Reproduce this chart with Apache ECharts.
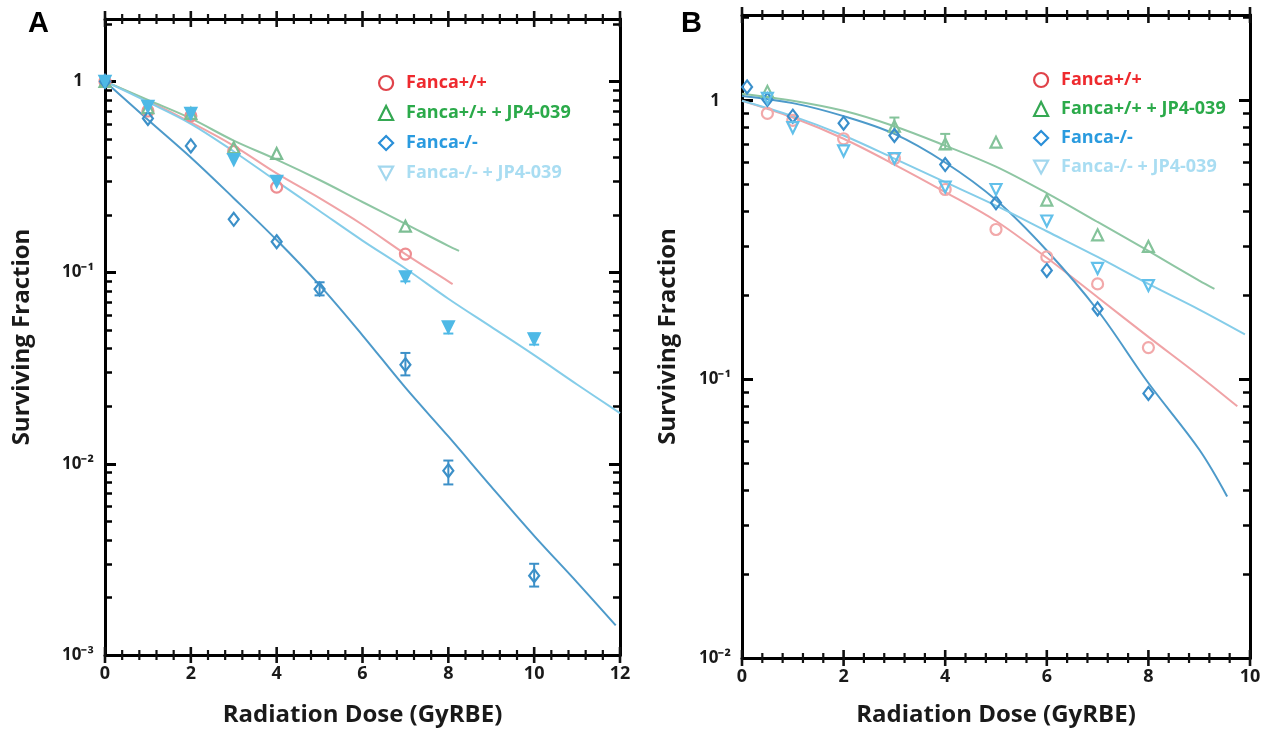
<!DOCTYPE html>
<html><head><meta charset="utf-8">
<script src="https://cdn.jsdelivr.net/npm/echarts@6/dist/echarts.min.js"></script>
<style>html,body{margin:0;padding:0;background:#fff}#c{width:1279px;height:732px}</style>
</head><body><div id="c"></div>
<script>
// ---------- Panel A : observed points ----------
const A_wt_x   = [0, 1, 2, 3, 4, 7];
const A_wt_y   = [1.0, 0.70, 0.66, 0.43, 0.28, 0.125];
const A_wtJP_x = [0, 1, 2, 3, 4, 7];
const A_wtJP_y = [1.0, 0.73, 0.68, 0.45, 0.42, 0.175];
const A_ko_x   = [0, 1, 2, 3, 4, 5, 7, 8, 10];
const A_ko_y   = [1.0, 0.64, 0.46, 0.19, 0.145, 0.082, 0.033, 0.0092, 0.0026];
const A_koJP_x = [0, 1, 2, 3, 4, 7, 8, 10];
const A_koJP_y = [1.0, 0.74, 0.68, 0.39, 0.30, 0.095, 0.052, 0.045];
// error bars (x, low, high)
const A_ko_err_x  = [5, 7, 8, 10];
const A_ko_err_lo = [0.076, 0.029, 0.0078, 0.00228];
const A_ko_err_hi = [0.089, 0.038, 0.0104, 0.0030];
const A_koJP_err_x  = [7, 8, 10];
const A_koJP_err_lo = [0.090, 0.048, 0.042];
const A_koJP_err_hi = [0.100, 0.055, 0.048];

// ---------- Panel A : fitted curves ----------
const fitA_wt_x   = [0, 1, 2, 3, 4, 5, 6, 7, 8, 8.1];
const fitA_wt_y   = [1.0, 0.79, 0.61, 0.46, 0.33, 0.245, 0.178, 0.125, 0.090, 0.087];
const fitA_wtJP_x = [0, 1, 2, 3, 4, 5, 6, 7, 8, 8.25];
const fitA_wtJP_y = [1.0, 0.80, 0.64, 0.49, 0.39, 0.305, 0.234, 0.18, 0.138, 0.13];
const fitA_ko_x   = [0, 1, 2, 3, 4, 5, 6, 7, 8, 9, 10, 11, 11.9];
const fitA_ko_y   = [1.0, 0.63, 0.40, 0.245, 0.148, 0.086, 0.047, 0.025, 0.0139, 0.0076, 0.0042, 0.0024, 0.00143];
const fitA_koJP_x = [0, 1, 2, 3, 4, 5, 6, 7, 8, 9, 10, 11, 12];
const fitA_koJP_y = [1.0, 0.78, 0.60, 0.43, 0.30, 0.21, 0.147, 0.105, 0.073, 0.052, 0.037, 0.026, 0.0184];

// ---------- Panel B : observed points ----------
const B_wt_x   = [0.5, 1, 2, 3, 4, 5, 6, 7, 8];
const B_wt_y   = [0.90, 0.85, 0.73, 0.62, 0.48, 0.345, 0.275, 0.22, 0.13];
const B_wtJP_x = [0.5, 3, 4, 5, 6, 7, 8];
const B_wtJP_y = [1.08, 0.81, 0.70, 0.71, 0.44, 0.33, 0.30];
const B_ko_x   = [0.1, 0.5, 1, 2, 3, 4, 5, 6, 7, 8];
const B_ko_y   = [1.12, 1.01, 0.88, 0.83, 0.75, 0.59, 0.43, 0.246, 0.179, 0.089];
const B_koJP_x = [0.5, 1, 2, 3, 4, 5, 6, 7, 8];
const B_koJP_y = [1.02, 0.80, 0.66, 0.62, 0.49, 0.48, 0.37, 0.25, 0.217];
const B_wtJP_err_x  = [3, 4];
const B_wtJP_err_lo = [0.77, 0.67];
const B_wtJP_err_hi = [0.87, 0.76];

// ---------- Panel B : fitted curves ----------
const fitB_wt_x   = [0, 1, 2, 3, 4, 5, 6, 7, 8, 9, 9.75];
const fitB_wt_y   = [1.0, 0.87, 0.73, 0.59, 0.47, 0.37, 0.273, 0.197, 0.142, 0.103, 0.08];
const fitB_wtJP_x = [0, 1, 2, 3, 4, 5, 6, 7, 8, 9, 9.3];
const fitB_wtJP_y = [1.06, 1.0, 0.92, 0.81, 0.69, 0.58, 0.466, 0.367, 0.289, 0.226, 0.211];
const fitB_ko_x   = [0, 1, 2, 3, 4, 5, 6, 7, 8, 9, 9.55];
const fitB_ko_y   = [1.04, 0.98, 0.88, 0.76, 0.60, 0.44, 0.29, 0.177, 0.097, 0.056, 0.038];
const fitB_koJP_x = [0, 1, 2, 3, 4, 5, 6, 7, 8, 9, 9.9];
const fitB_koJP_y = [1.0, 0.88, 0.75, 0.62, 0.51, 0.42, 0.34, 0.275, 0.22, 0.178, 0.145];

// ---------- axis ticks & labels ----------
const xTickValsA = [0, 2, 4, 6, 8, 10, 12];
const xTickValsB = [0, 2, 4, 6, 8, 10];
const xMinorStep = 0.4;
const yRangeA = [0.001, 2.12];
const yRangeB = [0.01, 2.03];
const yTickValsA   = [0.001, 0.01, 0.1, 1];
const yTickLabelsA = ['10\u207B\u00B3', '10\u207B\u00B2', '10\u207B\u00B9', '1'];
const yTickValsB   = [0.01, 0.1, 1];
const yTickLabelsB = ['10\u207B\u00B2', '10\u207B\u00B9', '1'];
const minorMantissas = [2, 3, 4, 5, 6, 7, 8, 9];
const names = ['Fanca+/+', 'Fanca+/+ + JP4-039', 'Fanca-/-', 'Fanca-/- + JP4-039'];

function minorVals(decades) {
  const out = [];
  decades.forEach(d => minorMantissas.forEach(m => out.push(+(m * d).toPrecision(3))));
  return out;
}
function xMinorVals(majors) {
  const out = [];
  for (let i = 0; i < majors.length - 1; i++) {
    for (let k = 1; k < 5; k++) out.push(+(majors[i] + k * xMinorStep).toFixed(2));
  }
  return out;
}
const yMinorA = minorVals([0.001, 0.01, 0.1, 1]);
const yMinorB = minorVals([0.01, 0.1, 1]);
const xMinorA = xMinorVals(xTickValsA);
const xMinorB = xMinorVals(xTickValsB);

const FONT = 'Open Sans';
const BLACK = '#000';
const TXT = '#1a1a1a';
const zip = (xs, ys) => xs.map((x, i) => [x, ys[i]]);
const zip3 = (xs, a, b) => xs.map((x, i) => [x, a[i], b[i]]);
const LINE = { show: true, onZero: false, lineStyle: { color: BLACK, width: 3 } };

function xAxesFor(gi, max, majors, nameGap) {
  const base = { gridIndex: gi, type: 'value', min: 0, max: max, interval: 2,
    axisLine: LINE, splitLine: { show: false }, minorTick: { show: false }, axisTick: { show: false } };
  return [
    Object.assign({}, base, {
      position: 'bottom',
      axisLabel: { show: true, customValues: majors, margin: 10, fontFamily: FONT, fontWeight: 'bold', fontSize: 18, color: TXT },
      name: 'Radiation Dose (GyRBE)', nameLocation: 'middle', nameGap: nameGap,
      nameTextStyle: { fontFamily: FONT, fontWeight: 'bold', fontSize: 24, color: TXT }
    }),
    Object.assign({}, base, { position: 'top', axisLabel: { show: false } })
  ];
}

function yAxesFor(gi, range, vals, labels, minor, nameGap) {
  const base = { gridIndex: gi, type: 'log', logBase: 10, min: range[0], max: range[1],
    axisLine: LINE, splitLine: { show: false }, minorTick: { show: false } };
  const fmt = v => {
    const idx = vals.findIndex(t => Math.abs(Math.log10(t) - Math.log10(v)) < 1e-6);
    return idx >= 0 ? labels[idx] : '';
  };
  const majorTick = { show: true, inside: true, length: 11, customValues: vals, lineStyle: { color: BLACK, width: 3 } };
  const minorTick = { show: true, inside: true, length: 7, customValues: minor, lineStyle: { color: BLACK, width: 2.5 } };
  return [
    Object.assign({}, base, {
      position: 'left', axisTick: majorTick,
      axisLabel: { show: true, customValues: vals, formatter: fmt, margin: 27, align: 'center',
        fontFamily: FONT, fontWeight: 'bold', fontSize: 17, color: TXT },
      name: 'Surviving Fraction', nameLocation: 'middle', nameGap: nameGap,
      nameTextStyle: { fontFamily: FONT, fontWeight: 'bold', fontSize: 24, color: TXT }
    }),
    Object.assign({}, base, { position: 'right', axisTick: majorTick, axisLabel: { show: false } }),
    Object.assign({}, base, { position: 'left', axisTick: minorTick, axisLabel: { show: false } }),
    Object.assign({}, base, { position: 'right', axisTick: minorTick, axisLabel: { show: false } })
  ];
}

// x-axis tick marks: short bars centred on the bottom and top frame edges
function xTickMarks(xi, yi, vals, range, len, width) {
  const data = [];
  vals.forEach(v => { data.push([v, range[0]]); data.push([v, range[1]]); });
  return { type: 'scatter', name: 'xticks', xAxisIndex: xi, yAxisIndex: yi, silent: true, z: 10,
    data: data, symbol: 'rect', symbolSize: [width, len], clip: false,
    itemStyle: { color: '#111111', opacity: 1 } };
}

function scatter(name, xi, yi, data, symbol, color, filled, rotate) {
  return { type: 'scatter', name: name, xAxisIndex: xi, yAxisIndex: yi, data: data,
    symbol: symbol, symbolSize: symbol === 'diamond' ? [10, 13] : 11, symbolRotate: rotate || 0,
    itemStyle: { color: filled ? color : 'rgba(255,255,255,0)', borderColor: color, borderWidth: 2.2, opacity: 1 },
    z: 5, silent: true };
}
function fit(name, xi, yi, data, color) {
  return { type: 'line', name: name, xAxisIndex: xi, yAxisIndex: yi, data: data,
    smooth: 0.35, showSymbol: false, symbol: 'none', lineStyle: { color: color, width: 2 },
    z: 3, silent: true };
}
function errbars(name, xi, yi, data, color) {
  return { type: 'custom', name: name, xAxisIndex: xi, yAxisIndex: yi, data: data, z: 4, silent: true,
    encode: { x: 0, y: [1, 2] },
    renderItem: function (params, api) {
      const x = api.value(0);
      const p1 = api.coord([x, api.value(1)]);
      const p2 = api.coord([x, api.value(2)]);
      const st = { stroke: color, lineWidth: 2 };
      const w = 5;
      return { type: 'group', children: [
        { type: 'line', shape: { x1: p1[0], y1: p1[1], x2: p2[0], y2: p2[1] }, style: st },
        { type: 'line', shape: { x1: p1[0] - w, y1: p1[1], x2: p1[0] + w, y2: p1[1] }, style: st },
        { type: 'line', shape: { x1: p2[0] - w, y1: p2[1], x2: p2[0] + w, y2: p2[1] }, style: st }
      ] };
    } };
}

const C = {
  wtM: '#EE8E92', wtL: '#F0A3A6',
  wtJPM: '#7DBE94', wtJPL: '#8EC6A3',
  koM: '#3C90C8', koL: '#4D9ACA',
  koJPM: '#4EB9E6', koJPL: '#85CDE9',
  wtMB: '#F2A9AA', wtJPMB: '#84C39A', koMB: '#3A8FCB', koJPMB: '#62C0EA'
};

const TRI_DOWN = 'path://M0,0L12,0L6,11Z';
function legendFor(left, top, gap) {
  return { orient: 'vertical', left: left, top: top, padding: 0, itemWidth: 14, itemHeight: 14, itemGap: gap,
    selectedMode: false, symbolKeepAspect: true,
    textStyle: { fontFamily: FONT, fontWeight: 'bold', fontSize: 18, lineHeight: 18, padding: [0, 0, 0, 8] },
    data: [
      { name: names[0], icon: 'circle', itemStyle: { color: 'rgba(255,255,255,0)', borderColor: '#E0434A', borderWidth: 2.2 }, textStyle: { color: '#EE2A2E' } },
      { name: names[1], icon: 'triangle', itemStyle: { color: 'rgba(255,255,255,0)', borderColor: '#35A853', borderWidth: 2.2 }, textStyle: { color: '#2BAA4A' } },
      { name: names[2], icon: 'diamond', itemStyle: { color: 'rgba(255,255,255,0)', borderColor: '#2A8FD8', borderWidth: 2.2 }, textStyle: { color: '#2A9BDF' } },
      { name: names[3], icon: TRI_DOWN, itemStyle: { color: 'rgba(255,255,255,0)', borderColor: '#A2D7EE', borderWidth: 2.2 }, textStyle: { color: '#A9DDF2' } }
    ] };
}

const option = {
  backgroundColor: '#fff',
  animation: false,
  title: [
    { text: 'A', left: 23, top: 4, textStyle: { fontFamily: 'Liberation Sans', fontWeight: 'bold', fontSize: 29, color: '#000' } },
    { text: 'B', left: 676, top: 4, textStyle: { fontFamily: 'Liberation Sans', fontWeight: 'bold', fontSize: 29, color: '#000' } }
  ],
  grid: [
    { left: 105, top: 19, width: 515, height: 639 },
    { left: 742, top: 15, width: 508, height: 646 }
  ],
  legend: [legendFor(378, 74, 12), legendFor(1033, 71, 11)],
  xAxis: [].concat(xAxesFor(0, 12, xTickValsA, 48), xAxesFor(1, 10, xTickValsB, 45)),
  yAxis: [].concat(
    yAxesFor(0, yRangeA, yTickValsA, yTickLabelsA, yMinorA, 71),
    yAxesFor(1, yRangeB, yTickValsB, yTickLabelsB, yMinorB, 62)
  ),
  series: [
    xTickMarks(0, 0, xTickValsA, yRangeA, 16, 2.6),
    xTickMarks(0, 0, xMinorA, yRangeA, 10, 2.2),
    fit('fitA0', 0, 0, zip(fitA_wt_x, fitA_wt_y), C.wtL),
    fit('fitA1', 0, 0, zip(fitA_wtJP_x, fitA_wtJP_y), C.wtJPL),
    fit('fitA2', 0, 0, zip(fitA_ko_x, fitA_ko_y), C.koL),
    fit('fitA3', 0, 0, zip(fitA_koJP_x, fitA_koJP_y), C.koJPL),
    errbars('errA2', 0, 0, zip3(A_ko_err_x, A_ko_err_lo, A_ko_err_hi), C.koM),
    errbars('errA3', 0, 0, zip3(A_koJP_err_x, A_koJP_err_lo, A_koJP_err_hi), C.koJPM),
    scatter(names[0], 0, 0, zip(A_wt_x, A_wt_y), 'circle', C.wtM, false),
    scatter(names[1], 0, 0, zip(A_wtJP_x, A_wtJP_y), 'triangle', C.wtJPM, false),
    scatter(names[2], 0, 0, zip(A_ko_x, A_ko_y), 'diamond', C.koM, false),
    scatter(names[3], 0, 0, zip(A_koJP_x, A_koJP_y), 'triangle', C.koJPM, true, 180),
    xTickMarks(2, 4, xTickValsB, yRangeB, 16, 2.6),
    xTickMarks(2, 4, xMinorB, yRangeB, 10, 2.2),
    fit('fitB0', 2, 4, zip(fitB_wt_x, fitB_wt_y), C.wtL),
    fit('fitB1', 2, 4, zip(fitB_wtJP_x, fitB_wtJP_y), C.wtJPL),
    fit('fitB2', 2, 4, zip(fitB_ko_x, fitB_ko_y), C.koL),
    fit('fitB3', 2, 4, zip(fitB_koJP_x, fitB_koJP_y), C.koJPL),
    errbars('errB1', 2, 4, zip3(B_wtJP_err_x, B_wtJP_err_lo, B_wtJP_err_hi), C.wtJPMB),
    scatter(names[0], 2, 4, zip(B_wt_x, B_wt_y), 'circle', C.wtMB, false),
    scatter(names[1], 2, 4, zip(B_wtJP_x, B_wtJP_y), 'triangle', C.wtJPMB, false),
    scatter(names[2], 2, 4, zip(B_ko_x, B_ko_y), 'diamond', C.koMB, false),
    scatter(names[3], 2, 4, zip(B_koJP_x, B_koJP_y), 'triangle', C.koJPMB, false, 180)
  ]
};

const chart = echarts.init(document.getElementById('c'));
chart.setOption(option);
</script>
</body></html>
